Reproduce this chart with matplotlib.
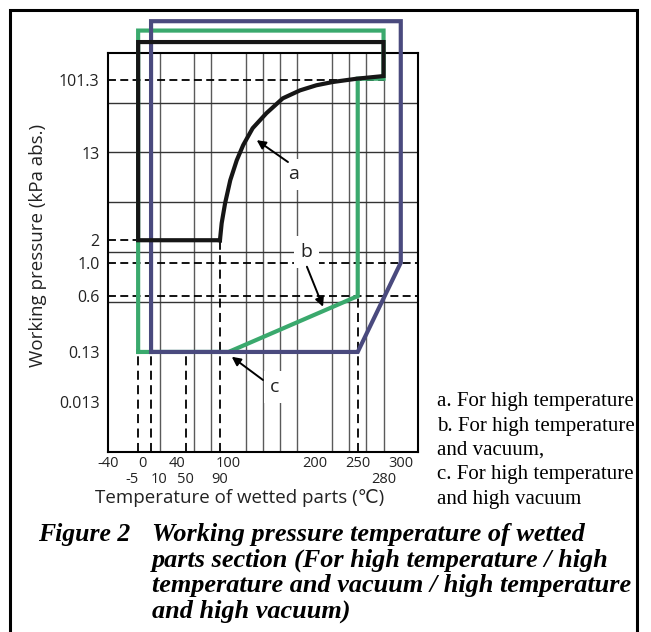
import numpy as np
import matplotlib
matplotlib.use("Agg")
import matplotlib.pyplot as plt
from matplotlib.lines import Line2D

# ---------------- data ----------------
# schematic pressure axis: tick pressures and their grid positions
P_ANCH = [0.0013, 0.013, 0.13, 0.6, 1.0, 2.0, 13.0, 101.3, 1000.0]
POS_ANCH = [0.0, 1.0, 2.0, 3.12, 3.79, 4.24, 5.99, 7.46, 9.10]

Y_TICKS = [0.013, 0.13, 0.6, 1.0, 2, 13, 101.3]
Y_LABELS = ["0.013", "0.13", "0.6", "1.0", "2", "13", "101.3"]
X_TICKS = [-40, 0, 40, 100, 200, 250, 300]
X_LABELS = ["-40", "0", "40", "100", "200", "250", "300"]
X_TICKS2 = [-5, 10, 50, 90, 280]
X_LABELS2 = ["-5", "10", "50", "90", "280"]
X_ALIGN2 = ["right", "left", "center", "center", "center"]
GRID_T = list(range(0, 301, 20))

# curve a (high temperature) boundary: vapour-like curve
A_T = [90, 92, 96, 102, 109.5, 117, 128, 144, 163, 183, 202, 221, 249, 280]
A_P = [2, 2.88, 4.43, 7.25, 11.1, 16.2, 26, 39.6, 60, 75, 86.5, 94.8, 104, 112]
A_TOP = 290
A_LEFT = -5
A_LOW = 2

# b: high temperature and vacuum
B_T = [-5, -5, 280, 280, 250, 250, 100, -5]
B_P = [0.13, 400, 400, 104, 104, 0.6, 0.13, 0.13]

# c: high temperature and high vacuum
C_T = [10, 10, 300, 300, 250, 10]
C_P = [0.13, 520, 520, 1.0, 0.13, 0.13]

# dashed reference lines
H_DASH = [(101.3, -40, 280), (2, -40, -5), (1.0, -40, 320), (0.6, -40, 320)]
V_DASH = [(-5, 0.13), (10, 0.13), (50, 0.13), (90, 2), (250, 0.6)]

LEGEND = ["a. For high temperature", "b. For high temperature", "and vacuum,",
          "c. For high temperature", "and high vacuum"]
CAPTION_HEAD = "Figure 2"
CAPTION = ["Working pressure temperature of wetted",
           "parts section (For high temperature / high",
           "temperature and vacuum / high temperature",
           "and high vacuum)"]

# ---------------- scale ----------------
LP = np.log10(P_ANCH)
PA = np.array(POS_ANCH)


def fwd(p):
    p = np.asarray(p, dtype=float)
    return np.interp(np.log10(np.clip(p, 1e-9, None)), LP, PA)


def inv(y):
    return 10 ** np.interp(np.asarray(y, dtype=float), PA, LP)


W, H = 651, 632
fig = plt.figure(figsize=(W / 100, H / 100), dpi=100)
ax = fig.add_axes([108 / W, 1 - 451.7 / H, 310 / W, 399 / H])
ax.set_yscale("function", functions=(fwd, inv))
ax.set_xlim(-40, 320)
ax.set_ylim(inv(0), inv(8))

SANS = ["Open Sans", "DejaVu Sans"]
SERIF = ["Liberation Serif", "DejaVu Serif"]

# grid
ax.set_xticks(GRID_T, minor=True)
ax.set_yticks([float(inv(k)) for k in range(1, 8)], minor=True)
ax.grid(which="minor", axis="x", color="#5a5a5a", lw=1.0)
ax.grid(which="minor", axis="y", color="#333333", lw=1.0)
ax.grid(which="major", visible=False)
ax.set_axisbelow(True)

ax.set_xticks(X_TICKS)
ax.set_xticklabels(X_LABELS, fontsize=10.5, family=SANS, color="#222")
ax.set_yticks(Y_TICKS)
ax.set_yticklabels(Y_LABELS, fontsize=11.5, family=SANS, color="#222")
ax.tick_params(which="both", length=0)
ax.tick_params(axis="x", pad=3)
ax.tick_params(axis="y", pad=6)
for s in ax.spines.values():
    s.set_linewidth(1.5)
    s.set_color("black")

trans = ax.get_xaxis_transform()
for t, lab, ha in zip(X_TICKS2, X_LABELS2, X_ALIGN2):
    ax.text(t, -0.069, lab, transform=trans, ha=ha, va="center",
            fontsize=10.5, family=SANS, color="#222")

# dashed lines
dash = (0, (4.4, 2.4))
for p, t0, t1 in H_DASH:
    ax.plot([t0, t1], [p, p], color="black", lw=1.3, ls=dash, zorder=2)
ybot = ax.get_ylim()[0]
for t, ptop in V_DASH:
    ax.plot([t, t], [ybot, ptop], color="black", lw=1.3, ls=(0, (5, 3)), zorder=2)

GREEN = "#3aa96d"
NAVY = "#4a4a7e"
lw = 3.0
ax.plot(B_T, B_P, color=GREEN, lw=lw, clip_on=False, zorder=3,
        solid_joinstyle="miter")
ax.plot(C_T, C_P, color=NAVY, lw=lw, clip_on=False, zorder=4,
        solid_joinstyle="miter")
blk_T = [A_T[0], A_LEFT, A_LEFT, A_T[-1]] + A_T[::-1]
blk_P = [A_LOW, A_LOW, A_TOP, A_TOP] + A_P[::-1]
ax.plot(blk_T, blk_P, color="#161616", lw=lw, clip_on=False, zorder=5,
        solid_joinstyle="miter")

# annotations
box = dict(boxstyle="square,pad=0.35", facecolor="white", edgecolor="none")
arrow = dict(arrowstyle="-|>", color="black", lw=1.4, mutation_scale=13,
             shrinkA=0, shrinkB=0)
ax.text(175, 8.2, "a", fontsize=14, family=SANS, ha="center", va="center",
        bbox=box, zorder=6, color="#222")
ax.annotate("", xy=(132.7, 18.6), xytext=(169, 10.7), arrowprops=arrow, zorder=6)
ax.text(190.5, 1.40, "b", fontsize=14, family=SANS, ha="center", va="center",
        bbox=box, zorder=6, color="#222")
ax.annotate("", xy=(209.7, 0.448), xytext=(191, 0.94), arrowprops=arrow, zorder=6)
ax.text(154, 0.026, "c", fontsize=14, family=SANS, ha="center", va="center",
        bbox=box, zorder=6, color="#222")
ax.annotate("", xy=(103.7, 0.104), xytext=(140, 0.0356), arrowprops=arrow, zorder=6)

# axis labels
fig.text(38 / W, 1 - 245 / H, "Working pressure (kPa abs.)", rotation=90,
         ha="center", va="center", fontsize=13.5, family=SANS, color="#222")
fig.text(240 / W, 1 - 498 / H, "Temperature of wetted parts (℃)",
         ha="center", va="center", fontsize=13.5, family=SANS, color="#222")

# legend text
for i, line in enumerate(LEGEND):
    fig.text(437 / W, 1 - (406 + 24.5 * i) / H, line, fontsize=15,
             family=SERIF, va="baseline", ha="left")

# caption
cap = dict(family=SERIF, weight="bold", style="italic",
           va="baseline", ha="left")
fig.text(38 / W, 1 - 541 / H, CAPTION_HEAD, fontsize=18.5, **cap)
for i, line in enumerate(CAPTION):
    fig.text(152 / W, 1 - (541 + 25.5 * i) / H, line, fontsize=18.9, **cap)

# frame
fig.add_artist(Line2D([10 / W, 10 / W, 637 / W, 637 / W],
                      [0, 1 - 10 / H, 1 - 10 / H, 0],
                      transform=fig.transFigure, color="black", lw=2.2,
                      solid_joinstyle="miter", zorder=10))

fig.savefig("out.png", dpi=100)
